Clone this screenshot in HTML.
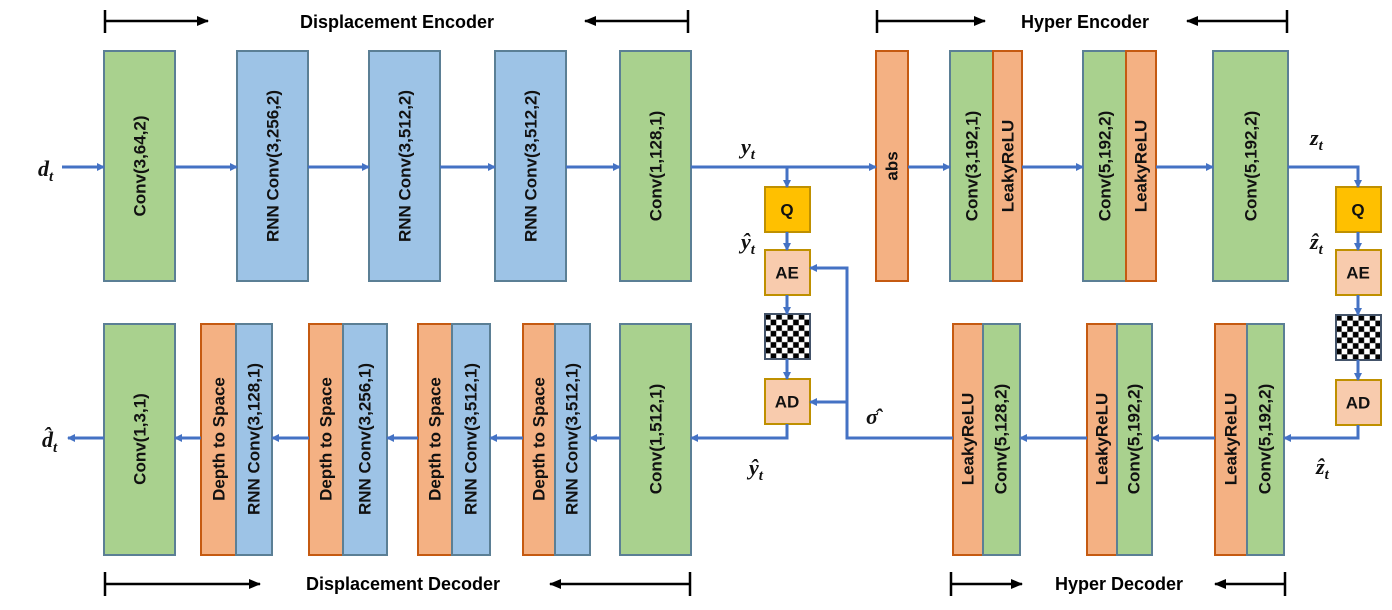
<!DOCTYPE html>
<html><head><meta charset="utf-8"><style>
html,body{margin:0;padding:0;background:#fff;}
svg{display:block;}
text{font-family:"Liberation Sans",Arial,sans-serif;font-weight:bold;}
.l{font-size:17px;fill:#111;}
.m{font-family:"Liberation Serif",serif;font-style:italic;font-size:22px;fill:#111;}
.h{font-size:18px;fill:#000;}
</style></head><body>
<svg width="1392" height="610" viewBox="0 0 1392 610" xmlns="http://www.w3.org/2000/svg">
<defs>
<marker id="a" markerWidth="8" markerHeight="8" refX="7" refY="4" orient="auto" markerUnits="userSpaceOnUse"><path d="M0,0 L8,4 L0,8 Z" fill="#4472c4"/></marker>
<marker id="k" markerWidth="12" markerHeight="10" refX="11" refY="5" orient="auto" markerUnits="userSpaceOnUse"><path d="M0,0 L12,5 L0,10 Z" fill="#000"/></marker>
<pattern id="ch" width="11.25" height="11.25" patternUnits="userSpaceOnUse" x="765" y="314"><rect width="11.25" height="11.25" fill="#fff"/><rect width="5.625" height="5.625" fill="#000"/><rect x="5.625" y="5.625" width="5.625" height="5.625" fill="#000"/></pattern>
<pattern id="ch2" width="11.25" height="11.25" patternUnits="userSpaceOnUse" x="1336" y="315"><rect width="11.25" height="11.25" fill="#fff"/><rect width="5.625" height="5.625" fill="#000"/><rect x="5.625" y="5.625" width="5.625" height="5.625" fill="#000"/></pattern>
</defs>
<g stroke="#000" stroke-width="2.5" fill="none">
<path d="M105 10V33M105 21H208" marker-end="url(#k)"/><path d="M688 10V33M688 21H585" marker-end="url(#k)"/>
<path d="M877 10V33M877 21H985" marker-end="url(#k)"/><path d="M1287 10V33M1287 21H1187" marker-end="url(#k)"/>
<path d="M105 572V596M105 584H260" marker-end="url(#k)"/><path d="M690 572V596M690 584H550" marker-end="url(#k)"/>
<path d="M951 572V596M951 584H1022" marker-end="url(#k)"/><path d="M1285 572V596M1285 584H1215" marker-end="url(#k)"/>
</g>
<text class="h" x="397" y="28" text-anchor="middle">Displacement Encoder</text>
<text class="h" x="1085" y="28" text-anchor="middle">Hyper Encoder</text>
<text class="h" x="403" y="590" text-anchor="middle">Displacement Decoder</text>
<text class="h" x="1119" y="590" text-anchor="middle">Hyper Decoder</text>
<g stroke-width="2">
<rect x="104" y="51" width="71" height="230" fill="#a9d18e" stroke="#5b7f95"/>
<rect x="237" y="51" width="71" height="230" fill="#9dc3e6" stroke="#5b7f95"/>
<rect x="369" y="51" width="71" height="230" fill="#9dc3e6" stroke="#5b7f95"/>
<rect x="495" y="51" width="71" height="230" fill="#9dc3e6" stroke="#5b7f95"/>
<rect x="620" y="51" width="71" height="230" fill="#a9d18e" stroke="#5b7f95"/>
<rect x="876" y="51" width="32" height="230" fill="#f4b183" stroke="#c55a11"/>
<rect x="950" y="51" width="43" height="230" fill="#a9d18e" stroke="#5b7f95"/>
<rect x="993" y="51" width="29" height="230" fill="#f4b183" stroke="#c55a11"/>
<rect x="1083" y="51" width="43" height="230" fill="#a9d18e" stroke="#5b7f95"/>
<rect x="1126" y="51" width="30" height="230" fill="#f4b183" stroke="#c55a11"/>
<rect x="1213" y="51" width="75" height="230" fill="#a9d18e" stroke="#5b7f95"/>
<rect x="104" y="324" width="71" height="231" fill="#a9d18e" stroke="#5b7f95"/>
<rect x="201" y="324" width="35" height="231" fill="#f4b183" stroke="#c55a11"/>
<rect x="236" y="324" width="36" height="231" fill="#9dc3e6" stroke="#5b7f95"/>
<rect x="309" y="324" width="34" height="231" fill="#f4b183" stroke="#c55a11"/>
<rect x="343" y="324" width="44" height="231" fill="#9dc3e6" stroke="#5b7f95"/>
<rect x="418" y="324" width="34" height="231" fill="#f4b183" stroke="#c55a11"/>
<rect x="452" y="324" width="38" height="231" fill="#9dc3e6" stroke="#5b7f95"/>
<rect x="523" y="324" width="32" height="231" fill="#f4b183" stroke="#c55a11"/>
<rect x="555" y="324" width="35" height="231" fill="#9dc3e6" stroke="#5b7f95"/>
<rect x="620" y="324" width="71" height="231" fill="#a9d18e" stroke="#5b7f95"/>
<rect x="953" y="324" width="30" height="231" fill="#f4b183" stroke="#c55a11"/>
<rect x="983" y="324" width="37" height="231" fill="#a9d18e" stroke="#5b7f95"/>
<rect x="1087" y="324" width="30" height="231" fill="#f4b183" stroke="#c55a11"/>
<rect x="1117" y="324" width="35" height="231" fill="#a9d18e" stroke="#5b7f95"/>
<rect x="1215" y="324" width="32" height="231" fill="#f4b183" stroke="#c55a11"/>
<rect x="1247" y="324" width="37" height="231" fill="#a9d18e" stroke="#5b7f95"/>
<rect x="765" y="187" width="45" height="45" fill="#ffc000" stroke="#bf9000"/>
<rect x="765" y="250" width="45" height="45" fill="#f8cbad" stroke="#bf9000"/>
<rect x="765" y="314" width="45" height="45" fill="url(#ch)" stroke="#44546a"/>
<rect x="765" y="379" width="45" height="45" fill="#f8cbad" stroke="#bf9000"/>
<rect x="1336" y="187" width="45" height="45" fill="#ffc000" stroke="#bf9000"/>
<rect x="1336" y="250" width="45" height="45" fill="#f8cbad" stroke="#bf9000"/>
<rect x="1336" y="315" width="45" height="45" fill="url(#ch2)" stroke="#44546a"/>
<rect x="1336" y="380" width="45" height="45" fill="#f8cbad" stroke="#bf9000"/>
</g>
<g class="l" text-anchor="middle" dominant-baseline="central">
<text transform="translate(140,166) rotate(-90)">Conv(3,64,2)</text>
<text transform="translate(273,166) rotate(-90)">RNN Conv(3,256,2)</text>
<text transform="translate(405,166) rotate(-90)">RNN Conv(3,512,2)</text>
<text transform="translate(531,166) rotate(-90)">RNN Conv(3,512,2)</text>
<text transform="translate(656,166) rotate(-90)">Conv(1,128,1)</text>
<text transform="translate(892,166) rotate(-90)">abs</text>
<text transform="translate(972,166) rotate(-90)">Conv(3,192,1)</text>
<text transform="translate(1008,166) rotate(-90)">LeakyReLU</text>
<text transform="translate(1105,166) rotate(-90)">Conv(5,192,2)</text>
<text transform="translate(1141,166) rotate(-90)">LeakyReLU</text>
<text transform="translate(1251,166) rotate(-90)">Conv(5,192,2)</text>
<text transform="translate(140,439) rotate(-90)">Conv(1,3,1)</text>
<text transform="translate(219,439) rotate(-90)">Depth to Space</text>
<text transform="translate(254,439) rotate(-90)">RNN Conv(3,128,1)</text>
<text transform="translate(326,439) rotate(-90)">Depth to Space</text>
<text transform="translate(365,439) rotate(-90)">RNN Conv(3,256,1)</text>
<text transform="translate(435,439) rotate(-90)">Depth to Space</text>
<text transform="translate(471,439) rotate(-90)">RNN Conv(3,512,1)</text>
<text transform="translate(539,439) rotate(-90)">Depth to Space</text>
<text transform="translate(572,439) rotate(-90)">RNN Conv(3,512,1)</text>
<text transform="translate(656,439) rotate(-90)">Conv(1,512,1)</text>
<text transform="translate(968,439) rotate(-90)">LeakyReLU</text>
<text transform="translate(1001,439) rotate(-90)">Conv(5,128,2)</text>
<text transform="translate(1102,439) rotate(-90)">LeakyReLU</text>
<text transform="translate(1134,439) rotate(-90)">Conv(5,192,2)</text>
<text transform="translate(1231,439) rotate(-90)">LeakyReLU</text>
<text transform="translate(1265,439) rotate(-90)">Conv(5,192,2)</text>
<text x="787" y="210">Q</text><text x="787" y="273">AE</text><text x="787" y="402">AD</text>
<text x="1358" y="210">Q</text><text x="1358" y="273">AE</text><text x="1358" y="403">AD</text>
</g>
<g stroke="#4472c4" stroke-width="3" fill="none" marker-end="url(#a)">
<path d="M62 167H104"/><path d="M175 167H237"/><path d="M308 167H369"/><path d="M440 167H495"/><path d="M566 167H620"/>
<path d="M691 167H876"/><path d="M908 167H950"/><path d="M1022 167H1083"/><path d="M1156 167H1213"/>
<path d="M787 167V187"/><path d="M787 232V250"/><path d="M787 295V314"/><path d="M787 359V379"/>
<path d="M1288 167H1358V187"/><path d="M1358 232V250"/><path d="M1358 295V315"/><path d="M1358 360V380"/>
<path d="M787 424V438H691"/><path d="M1358 425V438H1284"/>
<path d="M1215 438H1152"/><path d="M1087 438H1020"/>
<path d="M953 438H847V268H810"/><path d="M847 402H810"/>
<path d="M620 438H590"/><path d="M523 438H490"/><path d="M418 438H387"/><path d="M309 438H272"/><path d="M201 438H175"/><path d="M104 438H68"/>
</g>
<text class="m" x="38" y="176">d<tspan font-size="15" dy="5">t</tspan></text>
<text class="m" x="42" y="447">d̂<tspan font-size="15" dy="5">t</tspan></text>
<text class="m" x="741" y="154">y<tspan font-size="15" dy="5">t</tspan></text>
<text class="m" x="741" y="249">ŷ<tspan font-size="15" dy="5">t</tspan></text>
<text class="m" x="749" y="475">ŷ<tspan font-size="15" dy="5">t</tspan></text>
<text class="m" x="866" y="424">σ̂</text>
<text class="m" x="1310" y="145">z<tspan font-size="15" dy="5">t</tspan></text>
<text class="m" x="1310" y="249">ẑ<tspan font-size="15" dy="5">t</tspan></text>
<text class="m" x="1316" y="474">ẑ<tspan font-size="15" dy="5">t</tspan></text>
</svg>
</body></html>
